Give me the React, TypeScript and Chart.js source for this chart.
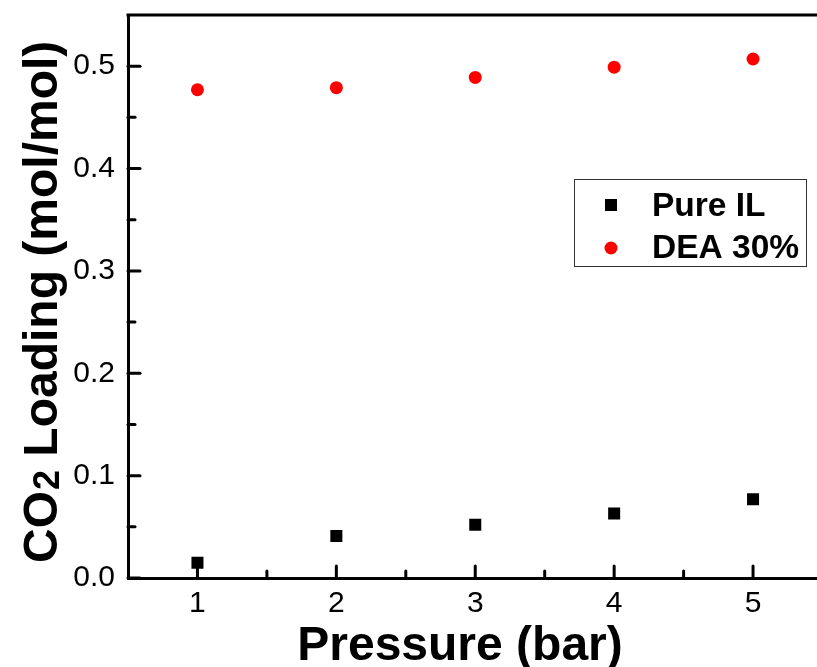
import React, { useEffect, useRef } from "react";
import { Chart, registerables } from "chart.js";

Chart.register(...registerables);

const pressure = [1, 2, 3, 4, 5];
const pureIL = [0.015, 0.041, 0.052, 0.063, 0.077];
const dea30 = [0.477, 0.479, 0.489, 0.499, 0.507];
const seriesLabels = ["Pure IL", "DEA 30%"];
const xTickValues = [1, 2, 3, 4, 5];
const xMinorTicks = [1.5, 2.5, 3.5, 4.5];
const yTickValues = [0, 0.1, 0.2, 0.3, 0.4, 0.5];
const yMinorTicks = [0.05, 0.15, 0.25, 0.35, 0.45];
const xTitle = "Pressure (bar)";
const yTitleParts = ["CO", "2", " Loading (mol/mol)"];

const FONT = "'Liberation Sans', Arial, Helvetica, sans-serif";
const W = 840;
const H = 667;

const decorPlugin = {
  id: "decor",
  afterDraw(chart: any) {
    const { ctx, chartArea, scales } = chart;
    const { left, right, top, bottom } = chartArea;
    ctx.save();
    ctx.strokeStyle = "#000";
    ctx.lineWidth = 3;
    ctx.lineCap = "butt";
    // top & right frame
    ctx.beginPath();
    ctx.moveTo(left - 1.5, top);
    ctx.lineTo(right, top);
    ctx.lineTo(right, bottom + 1.5);
    ctx.stroke();
    // inward ticks
    ctx.lineCap = "round";
    const tick = (x1: number, y1: number, x2: number, y2: number) => {
      ctx.beginPath();
      ctx.moveTo(x1, y1);
      ctx.lineTo(x2, y2);
      ctx.stroke();
    };
    yTickValues.forEach((v) => {
      const y = scales.y.getPixelForValue(v);
      tick(left, y, left + 12, y);
    });
    yMinorTicks.forEach((v) => {
      const y = scales.y.getPixelForValue(v);
      tick(left, y, left + 7, y);
    });
    xTickValues.forEach((v) => {
      const x = scales.x.getPixelForValue(v);
      tick(x, bottom, x, bottom - 12);
    });
    xMinorTicks.forEach((v) => {
      const x = scales.x.getPixelForValue(v);
      tick(x, bottom, x, bottom - 7);
    });

    // x title
    ctx.fillStyle = "#000";
    ctx.font = `bold 48px ${FONT}`;
    ctx.textAlign = "center";
    ctx.textBaseline = "alphabetic";
    ctx.fillText(xTitle, 460, 660);

    // y title (rotated, with subscript)
    ctx.save();
    ctx.translate(57, 563);
    ctx.rotate(-Math.PI / 2);
    ctx.textAlign = "left";
    let x = 0;
    ctx.font = `bold 48px ${FONT}`;
    ctx.fillText(yTitleParts[0], x, 0);
    x += ctx.measureText(yTitleParts[0]).width;
    ctx.font = `bold 36px ${FONT}`;
    ctx.fillText(yTitleParts[1], x + 1, 2);
    x += ctx.measureText(yTitleParts[1]).width + 1;
    ctx.font = `bold 48px ${FONT}`;
    ctx.fillText(yTitleParts[2], x, 0);
    ctx.restore();

    // legend
    ctx.lineWidth = 1;
    ctx.strokeStyle = "#333";
    ctx.strokeRect(574.5, 179.5, 232, 87);
    const ds = chart.data.datasets;
    const rows = [205, 247];
    ds.forEach((d: any, i: number) => {
      const cy = rows[i];
      ctx.fillStyle = d.backgroundColor;
      if (d.pointStyle === "rect") {
        ctx.fillRect(611 - 6, cy - 6, 12, 12);
      } else {
        ctx.beginPath();
        ctx.arc(611, cy + 1, 6.5, 0, Math.PI * 2);
        ctx.fill();
      }
      ctx.fillStyle = "#000";
      ctx.font = `bold 33.5px ${FONT}`;
      ctx.textAlign = "left";
      ctx.textBaseline = "alphabetic";
      ctx.fillText(d.label, 652, cy + 11);
    });
    ctx.restore();
  },
};

export default function App() {
  const ref = useRef<HTMLCanvasElement | null>(null);
  useEffect(() => {
    if (!ref.current) return;
    const chart = new Chart(ref.current, {
      type: "scatter",
      data: {
        datasets: [
          {
            label: seriesLabels[0],
            data: pressure.map((p, i) => ({ x: p, y: pureIL[i] })),
            backgroundColor: "#000000",
            borderColor: "#000000",
            pointStyle: "rect",
            pointRadius: 8.5,
            borderWidth: 0,
          },
          {
            label: seriesLabels[1],
            data: pressure.map((p, i) => ({ x: p, y: dea30[i] })),
            backgroundColor: "#ff0000",
            borderColor: "#ff0000",
            pointStyle: "circle",
            pointRadius: 6.5,
            borderWidth: 0,
          },
        ],
      },
      options: {
        responsive: false,
        animation: false,
        devicePixelRatio: 1,
        layout: { padding: { left: 0, top: 15, right: W - 822.5, bottom: 0 } },
        plugins: {
          legend: { display: false },
          tooltip: { enabled: false },
        },
        scales: {
          x: {
            type: "linear",
            min: 0.5,
            max: 5.5,
            afterBuildTicks: (s: any) => {
              s.ticks = xTickValues.map((v) => ({ value: v }));
            },
            afterFit: (s: any) => {
              s.height = H - 578;
              s.paddingLeft = 0;
              s.paddingRight = 0;
            },
            grid: { display: false, drawTicks: false },
            border: { display: true, width: 3, color: "#000" },
            ticks: {
              color: "#000",
              font: { family: FONT, size: 30 },
              padding: 8,
              maxRotation: 0,
              callback: (v: any) => String(v),
            },
          },
          y: {
            type: "linear",
            min: 0,
            max: 0.55,
            afterBuildTicks: (s: any) => {
              s.ticks = yTickValues.map((v) => ({ value: v }));
            },
            afterFit: (s: any) => {
              s.width = 128;
              s.paddingTop = 0;
              s.paddingBottom = 0;
            },
            grid: { display: false, drawTicks: false },
            border: { display: true, width: 3, color: "#000" },
            ticks: {
              color: "#000",
              font: { family: FONT, size: 30 },
              padding: 13,
              callback: (v: any) => Number(v).toFixed(1),
            },
          },
        },
      },
      plugins: [decorPlugin],
    } as any);
    return () => chart.destroy();
  }, []);
  return (
    <div
      style={{
        position: "fixed",
        left: 0,
        top: 0,
        width: 817,
        height: H,
        overflow: "hidden",
        background: "#fff",
      }}
    >
      <canvas ref={ref} width={W} height={H} style={{ display: "block" }} />
    </div>
  );
}
